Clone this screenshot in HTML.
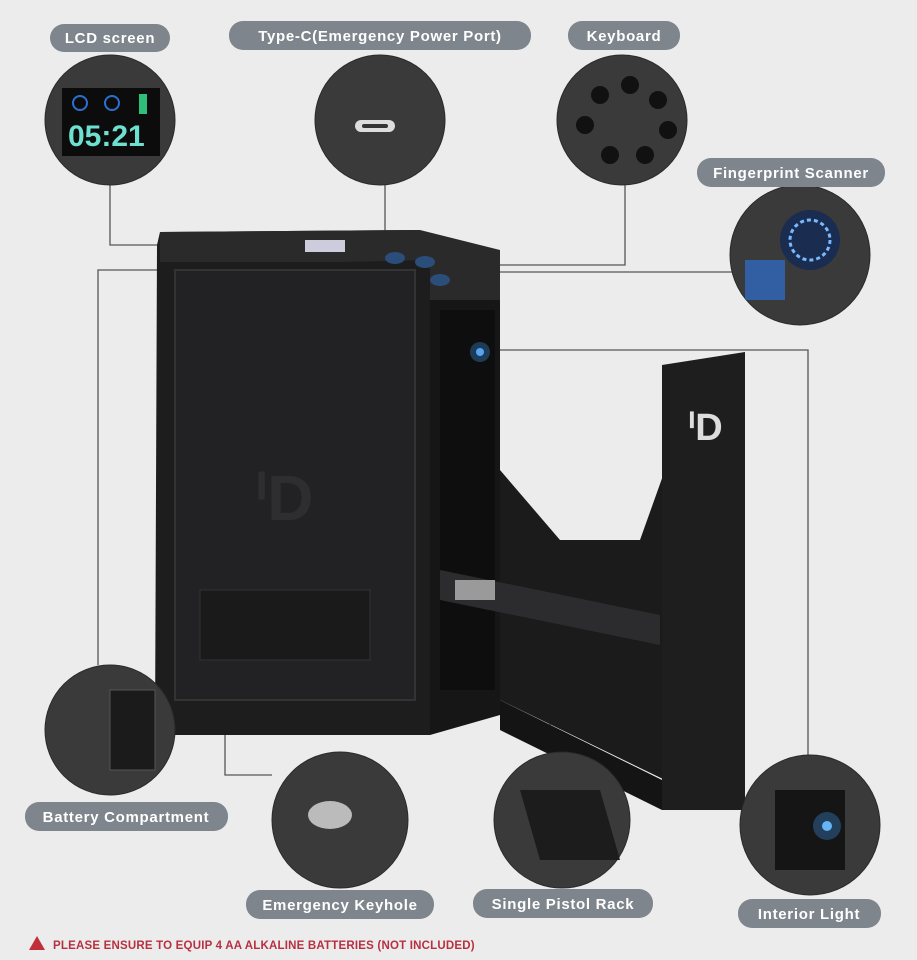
<!DOCTYPE html>
<html><head><style>
html,body{margin:0;padding:0;background:#ececec;}
svg{display:block}
text{font-family:"Liberation Sans",sans-serif;font-weight:bold;}
</style></head><body>
<svg width="917" height="960" viewBox="0 0 917 960" xmlns="http://www.w3.org/2000/svg">
<rect width="917" height="960" fill="#ececec"/>
<g stroke="#555" stroke-width="1.3" fill="none">
<polyline points="110,185 110,245 305,245"/>
<polyline points="385,185 385,250"/>
<polyline points="625,185 625,265 450,265"/>
<polyline points="735,272 445,272"/>
<polyline points="157,270 98,270 98,665"/>
<polyline points="480,350 808,350 808,760"/>
<polyline points="225,690 225,775 272,775"/>
<polyline points="550,530 550,755"/>
</g>
<polygon points="157,245 160,232 420,230 430,260 430,735 155,735" fill="#1d1d1e"/>
<polygon points="160,232 420,230 500,250 500,300 430,300 430,260 340,262 160,262" fill="#2a2a2b"/>
<polygon points="430,300 500,300 500,715 430,735" fill="#161617"/>
<rect x="440" y="310" width="55" height="380" fill="#0e0e0f"/>
<rect x="305" y="240" width="40" height="12" fill="#ccd" />
<circle cx="480" cy="352" r="4" fill="#5fb0ff"/>
<circle cx="480" cy="352" r="10" fill="#3d8fe0" opacity=".35"/>
<g fill="#2b4d7a"><ellipse cx="395" cy="258" rx="10" ry="6"/><ellipse cx="425" cy="262" rx="10" ry="6"/><ellipse cx="405" cy="276" rx="10" ry="6"/><ellipse cx="440" cy="280" rx="10" ry="6"/></g>
<rect x="175" y="270" width="240" height="430" fill="#222224" stroke="#333" stroke-width="2"/>
<rect x="200" y="590" width="170" height="70" fill="#1a1a1b" stroke="#333"/>
<text x="255" y="520" font-size="64" fill="#2e2e30">ᑊD</text>
<polygon points="500,470 560,540 640,540 665,470 665,780 500,700" fill="#1b1b1c"/>
<polygon points="440,570 660,615 660,645 440,600" fill="#2c2c2e"/>
<rect x="455" y="580" width="40" height="20" fill="#9a9a9a"/>
<polygon points="662,365 745,352 745,810 662,810" fill="#1e1e1f"/>
<text x="688" y="440" font-size="38" fill="#ddd">ᑊD</text>
<polygon points="500,700 662,780 662,810 500,730" fill="#141415"/>
<g fill="#3a3a3b" stroke="#2a2a2a">
<circle cx="110" cy="120" r="65"/>
<circle cx="380" cy="120" r="65"/>
<circle cx="622" cy="120" r="65"/>
<circle cx="800" cy="255" r="70"/>
<circle cx="110" cy="730" r="65"/>
<circle cx="340" cy="820" r="68"/>
<circle cx="562" cy="820" r="68"/>
<circle cx="810" cy="825" r="70"/>
</g>
<rect x="62" y="88" width="98" height="68" fill="#0c0c0c"/>
<text x="68" y="146" font-size="30" fill="#6ee0d0" font-family="Liberation Mono">05:21</text>
<circle cx="80" cy="103" r="7" fill="none" stroke="#2d6fd0" stroke-width="2"/>
<circle cx="112" cy="103" r="7" fill="none" stroke="#2d6fd0" stroke-width="2"/>
<rect x="139" y="94" width="8" height="20" fill="#2fbf7a"/>
<rect x="355" y="120" width="40" height="12" rx="6" fill="#ddd"/>
<rect x="362" y="124" width="26" height="4" rx="2" fill="#333"/>
<g fill="#111">
<circle cx="600" cy="95" r="9"/><circle cx="630" cy="85" r="9"/><circle cx="658" cy="100" r="9"/><circle cx="668" cy="130" r="9"/><circle cx="645" cy="155" r="9"/><circle cx="610" cy="155" r="9"/><circle cx="585" cy="125" r="9"/></g>
<circle cx="810" cy="240" r="30" fill="#1a2c50"/>
<circle cx="810" cy="240" r="20" fill="none" stroke="#7ab8ff" stroke-width="3" stroke-dasharray="4 3"/>
<rect x="745" y="260" width="40" height="40" fill="#2f6fd0" opacity=".7"/>
<rect x="110" y="690" width="45" height="80" fill="#1b1b1b" stroke="#555"/>
<ellipse cx="330" cy="815" rx="22" ry="14" fill="#bbb"/>
<polygon points="520,790 600,790 620,860 540,860" fill="#1c1c1c"/>
<rect x="775" y="790" width="70" height="80" fill="#151515"/>
<circle cx="827" cy="826" r="5" fill="#7fc8ff"/>
<circle cx="827" cy="826" r="14" fill="#3d8fe0" opacity=".35"/>
<g fill="#7e858c">
<rect x="50" y="24" width="120" height="28" rx="14"/>
<rect x="229" y="21" width="302" height="29" rx="14"/>
<rect x="568" y="21" width="112" height="29" rx="14"/>
<rect x="697" y="158" width="188" height="29" rx="14"/>
<rect x="25" y="802" width="203" height="29" rx="14"/>
<rect x="246" y="890" width="188" height="29" rx="14"/>
<rect x="473" y="889" width="180" height="29" rx="14"/>
<rect x="738" y="899" width="143" height="29" rx="14"/>
</g>
<g fill="#fff" font-size="15" text-anchor="middle" letter-spacing="0.7">
<text x="110" y="43">LCD screen</text>
<text x="380" y="41">Type-C(Emergency Power Port)</text>
<text x="624" y="41">Keyboard</text>
<text x="791" y="178">Fingerprint Scanner</text>
<text x="126" y="822">Battery Compartment</text>
<text x="340" y="910">Emergency Keyhole</text>
<text x="563" y="909">Single Pistol Rack</text>
<text x="809" y="919">Interior Light</text>
</g>
<polygon points="37,936 45,950 29,950" fill="#c0303a"/>
<text x="53" y="949" font-size="11.5" fill="#b83040" letter-spacing="0.2">PLEASE ENSURE TO EQUIP 4 AA ALKALINE BATTERIES (NOT INCLUDED)</text>
</svg>
</body></html>
